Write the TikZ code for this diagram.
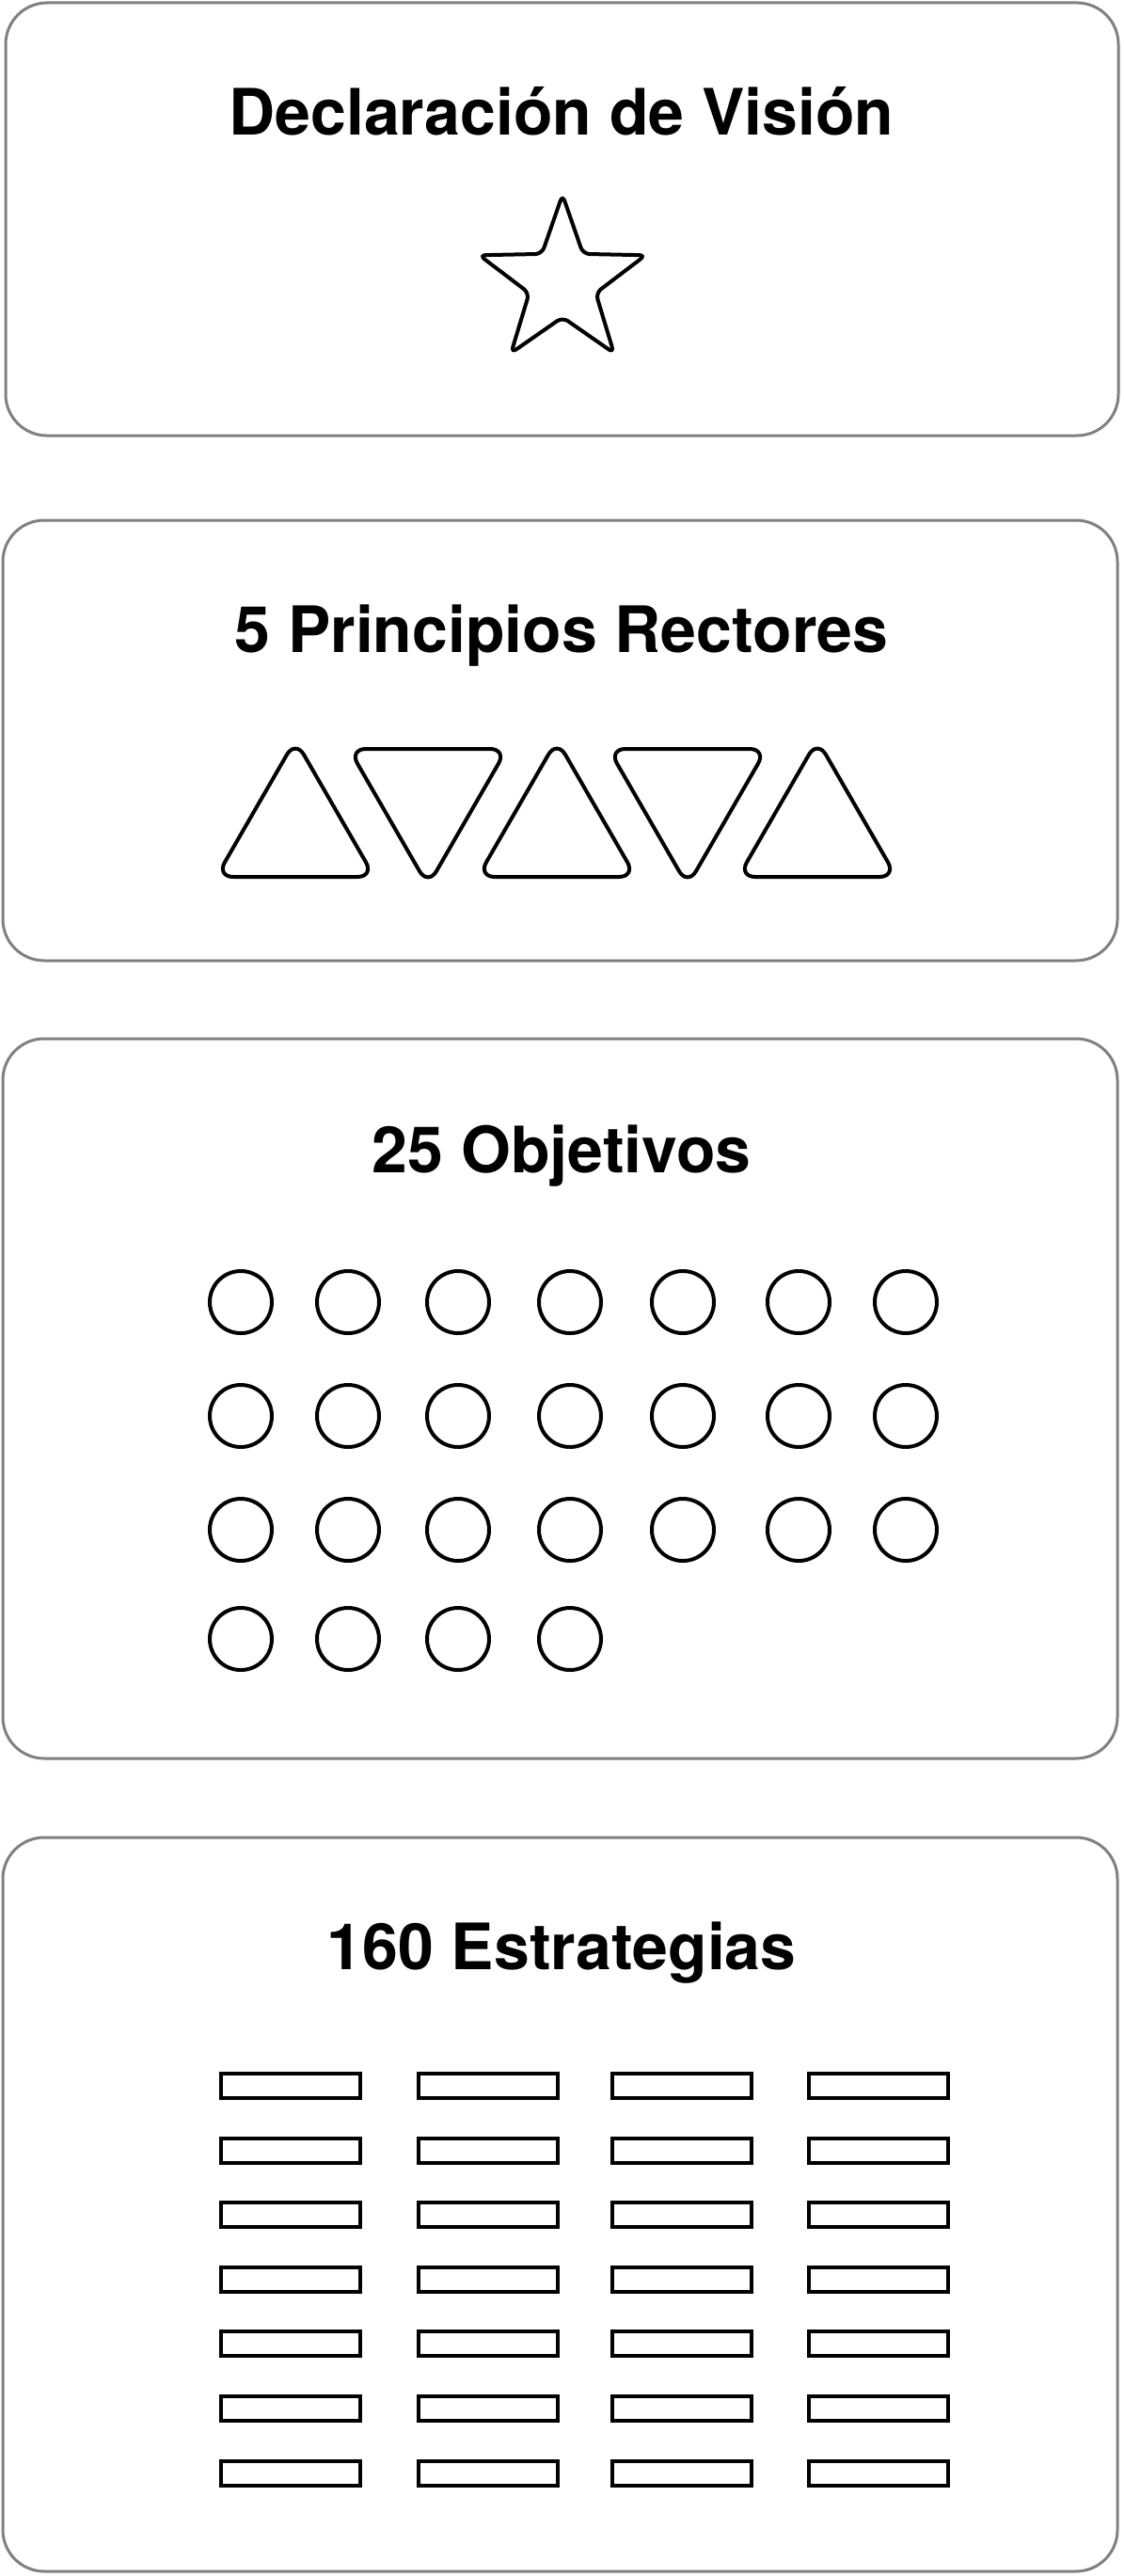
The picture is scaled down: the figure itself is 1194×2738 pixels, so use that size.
\documentclass[tikz,border=0pt]{standalone}
\usepackage{fontspec}
\setmainfont{TeX Gyre Heros}
\usetikzlibrary{shapes.geometric,positioning}
\definecolor{panelgray}{RGB}{128,128,130}
\tikzset
{
    panel/.style     = {rectangle, draw=panelgray, line width=3pt, rounded corners=44pt, inner sep=0pt},
    heading/.style   = {font=\fontsize{68}{80}\selectfont\bfseries, anchor=base, inner sep=0pt},
    starnode/.style  = {star, star points=5, star point ratio=2.5, draw=black, line width=4pt, rounded corners=7pt, minimum size=186pt, inner sep=0pt},
    uptri/.style     = {regular polygon, regular polygon sides=3, draw=black, line width=4pt, rounded corners=18pt, minimum size=194pt, inner sep=0pt},
    downtri/.style   = {uptri, shape border rotate=180},
    objective/.style = {circle, draw=black, line width=4pt, minimum size=66pt, inner sep=0pt},
    strategy/.style  = {rectangle, draw=black, line width=4pt, minimum width=148pt, minimum height=26pt, inner sep=0pt}
}

\begin{document}
\begin{tikzpicture}[x=1pt, y=-1pt]

	 \newcommand\MIDX{597}
	 \useasboundingbox (0,0) rectangle (1194,2738);

	 % the four panels
	 \node (p1)	[panel, minimum width=1183pt, minimum height=460pt] 	at (597.5, 233)  	{};
	 \node (p2)	[panel, minimum width=1185pt, minimum height=468pt] 	at (595.5, 787)  	{};
	 \node (p3)	[panel, minimum width=1185pt, minimum height=765pt] 	at (595.5, 1486.5)	{};
	 \node (p4)	[panel, minimum width=1185pt, minimum height=780pt] 	at (595.5, 2343) 	{};

	 \node (t1)	[heading] 	at (\MIDX, 143)  	{Declaración de Visión};
	 \node (t2)	[heading] 	at (\MIDX, 693)  	{5 Principios Rectores};
	 \node (t3)	[heading] 	at (\MIDX, 1246) 	{25 Objetivos};
	 \node (t4)	[heading] 	at (\MIDX, 2093) 	{160 Estrategias};

	 % vision
	 \node (vis)	[starnode] 	at (598, 300) 	{};

	 % principles
	 \node (pr1)	[uptri]   	at (314, 883.5) 	{};
	 \node (pr2)	[downtri] 	at (455, 844.5) 	{};
	 \node (pr3)	[uptri]   	at (592, 883.5) 	{};
	 \node (pr4)	[downtri] 	at (731, 844.5) 	{};
	 \node (pr5)	[uptri]   	at (869, 883.5) 	{};

	 % objectives
	 \foreach \row/\ry in {1/1384, 2/1505, 3/1626}
	   \foreach \col/\cx in {1/256, 2/370, 3/487, 4/606, 5/726, 6/849, 7/963}
	     \node (ob\row\col) [objective] at (\cx, \ry) {};
	 \foreach \col/\cx in {1/256, 2/370, 3/487, 4/606}
	   \node (ob4\col) [objective] at (\cx, 1742) {};

	 % strategies
	 \foreach \row/\ry in {1/2217, 2/2285.6, 3/2354.2, 4/2422.8, 5/2491.4, 6/2560, 7/2628.6}
	   \foreach \col/\cx in {1/309, 2/519, 3/725, 4/934}
	     \node (st\row\col) [strategy] at (\cx, \ry) {};

\end{tikzpicture}
\end{document}
